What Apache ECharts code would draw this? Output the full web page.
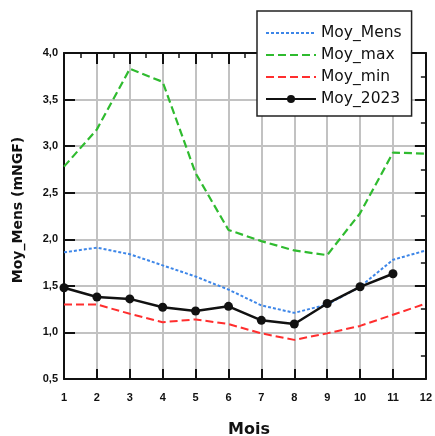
<!DOCTYPE html>
<html>
<head>
<meta charset="utf-8">
<script src="https://cdn.jsdelivr.net/npm/echarts@6/dist/echarts.min.js"></script>
<style>html,body{margin:0;padding:0;background:#fff}#c{width:435px;height:436px}</style>
</head>
<body>
<div id="c"></div>
<script>
var months = [1,2,3,4,5,6,7,8,9,10,11,12];
var moyMens = [1.86,1.91,1.84,1.72,1.60,1.46,1.29,1.21,1.30,1.49,1.78,1.88];
var moyMax  = [2.78,3.18,3.83,3.69,2.71,2.10,1.98,1.88,1.83,2.28,2.93,2.92];
var moyMin  = [1.30,1.30,1.20,1.11,1.14,1.09,0.99,0.92,0.99,1.07,1.19,1.31];
var moy2023 = [1.48,1.38,1.36,1.27,1.23,1.28,1.13,1.09,1.31,1.49,1.63,null];
var seriesNames = ['Moy_Mens','Moy_max','Moy_min','Moy_2023'];
var yTitle = 'Moy_Mens (mNGF)';
var xTitle = 'Mois';

function pairs(arr){ return months.map(function(m,i){ return [m, arr[i]]; }); }

var chart = echarts.init(document.getElementById('c'), null, {renderer:'canvas'});
var black = '#111';
var gridCol = '#c2c2c2';
var lblStyle = {fontFamily:'Liberation Sans', fontWeight:'bold', fontSize:11, color:'#111'};
var noSym = {opacity:0, color:'rgba(0,0,0,0)'};

chart.setOption({
  animation:false,
  backgroundColor:'#fff',
  grid:{left:64, right:5, top:53, bottom:57},
  xAxis:[
    {type:'value', position:'bottom', min:1, max:12, interval:1,
     axisLine:{show:true, onZero:false, lineStyle:{color:black, width:2}},
     axisTick:{show:true, inside:true, length:10, lineStyle:{color:black, width:2}},
     splitLine:{show:true, lineStyle:{color:gridCol, width:2}},
     axisLabel:Object.assign({margin:13, formatter:function(v){return String(v);}}, lblStyle)},
    {type:'value', position:'top', min:1, max:12, interval:1,
     axisLine:{show:true, onZero:false, lineStyle:{color:black, width:2}},
     axisTick:{show:true, inside:true, length:11, lineStyle:{color:black, width:2}},
     minorTick:{show:true, splitNumber:2, length:5, lineStyle:{color:black, width:1.5}},
     splitLine:{show:false}, axisLabel:{show:false}}
  ],
  yAxis:[
    {type:'value', position:'left', min:0.5, max:4, interval:0.5,
     axisLine:{show:true, onZero:false, lineStyle:{color:black, width:2}},
     axisTick:{show:true, inside:true, length:11, lineStyle:{color:black, width:2}},
     splitLine:{show:true, lineStyle:{color:gridCol, width:2}},
     axisLabel:Object.assign({margin:6, formatter:function(v){return v.toFixed(1).replace('.', ',');}}, lblStyle)},
    {type:'value', position:'right', min:0.5, max:4, interval:0.5,
     axisLine:{show:true, onZero:false, lineStyle:{color:black, width:2}},
     axisTick:{show:true, inside:true, length:11, lineStyle:{color:black, width:2}},
     minorTick:{show:true, splitNumber:2, length:5, lineStyle:{color:black, width:1.5}},
     splitLine:{show:false}, axisLabel:{show:false}}
  ],
  legend:{
    left:257, top:11, orient:'vertical',
    data:[
      {name:seriesNames[0], itemStyle:noSym},
      {name:seriesNames[1], itemStyle:noSym},
      {name:seriesNames[2], itemStyle:noSym},
      {name:seriesNames[3]}
    ],
    backgroundColor:'#fff', borderColor:'#222', borderWidth:1.5,
    padding:[14,10,9,8],
    itemWidth:50, itemHeight:10, itemGap:6,
    textStyle:{fontFamily:'DejaVu Sans', fontSize:15.5, color:'#111', lineHeight:16},
    z:10
  },
  graphic:[
    {type:'text', x:18, y:210, rotation:Math.PI/2,
     style:{text:yTitle, font:'bold 14px "DejaVu Sans"', fill:'#111', textAlign:'center', textVerticalAlign:'middle'}},
    {type:'text', x:249, y:430,
     style:{text:xTitle, font:'bold 16px "DejaVu Sans"', fill:'#111', textAlign:'center', textVerticalAlign:'middle'}}
  ],
  series:[
    {name:seriesNames[0], type:'line', data:pairs(moyMens), symbol:'none',
     lineStyle:{color:'#3d86e8', width:2, type:[3,2]}},
    {name:seriesNames[1], type:'line', data:pairs(moyMax), symbol:'none',
     lineStyle:{color:'#2fbb2f', width:2.2, type:[8,4]}},
    {name:seriesNames[2], type:'line', data:pairs(moyMin), symbol:'none',
     lineStyle:{color:'#ff2e2e', width:2, type:[8,4]}},
    {name:seriesNames[3], type:'line', data:pairs(moy2023), symbol:'circle', symbolSize:9,
     itemStyle:{color:black}, lineStyle:{color:black, width:2.5}, connectNulls:false}
  ]
});
</script>
</body>
</html>
